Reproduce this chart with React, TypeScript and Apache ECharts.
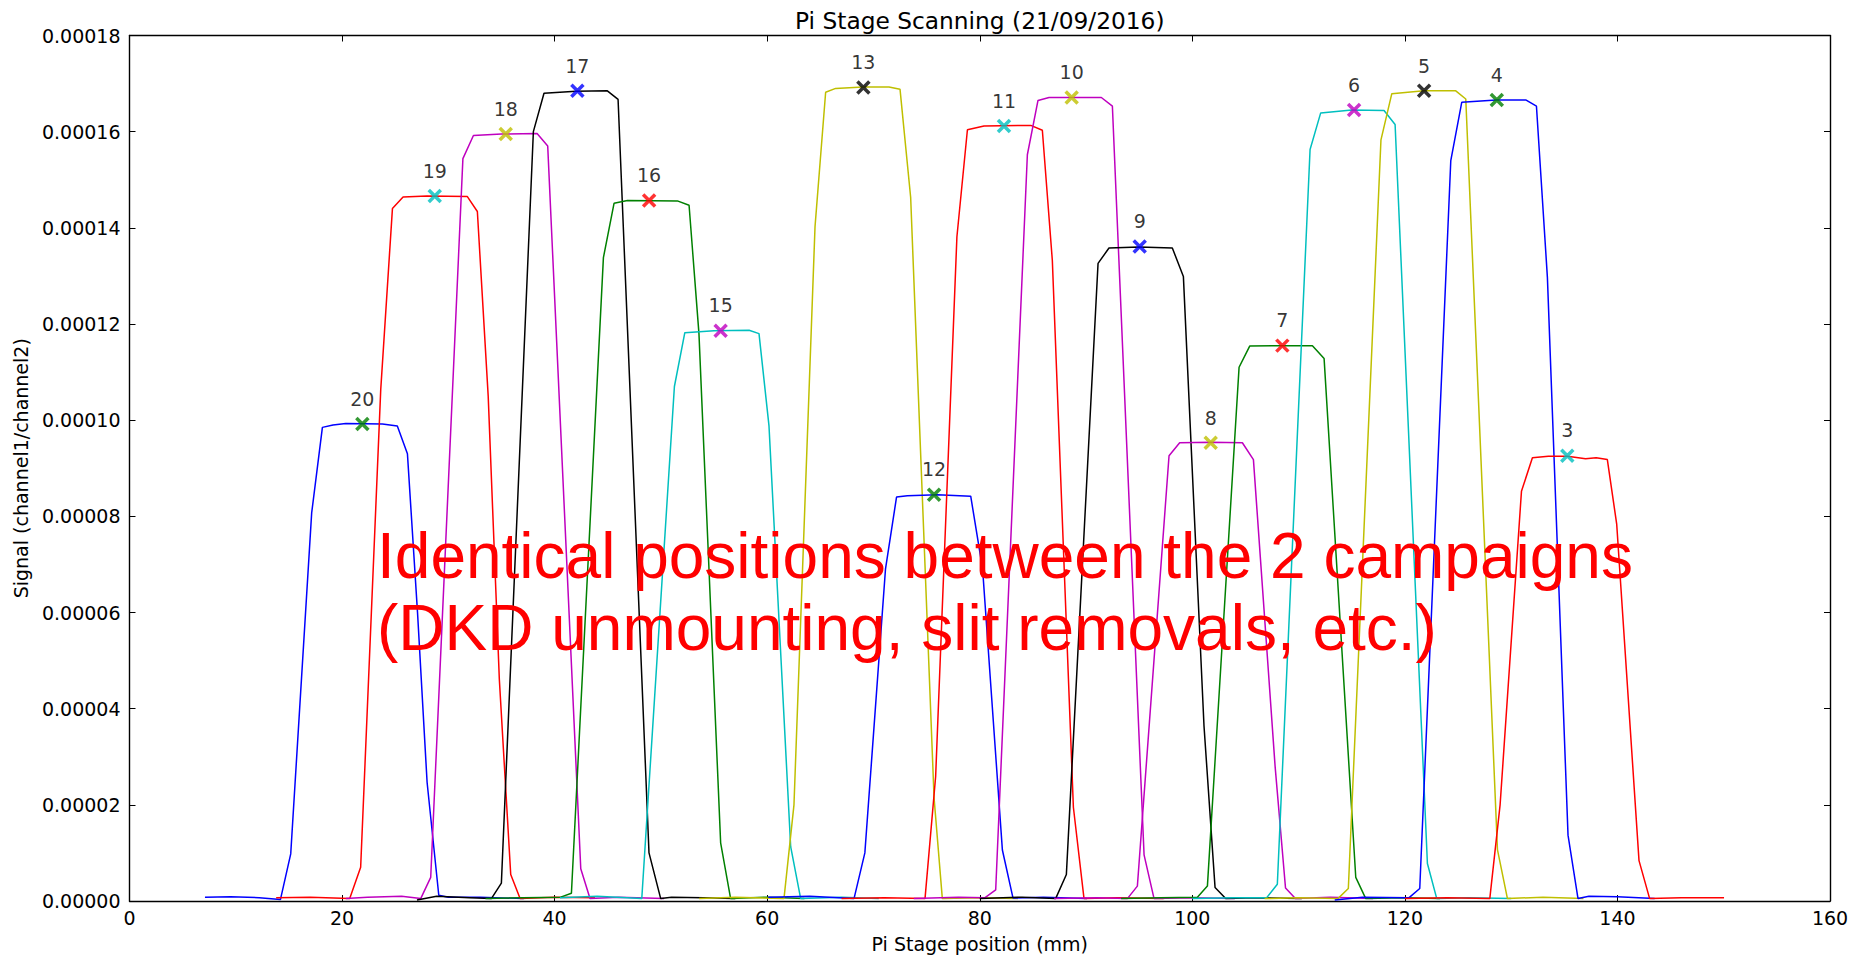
import React, { useEffect, useRef } from 'react';
import * as echarts from 'echarts';

// ---- data (x in mm, y = signal channel1/channel2) ----
const c20 = [[7.1, 0.08e-5], [9.5, 0.09e-5], [12.2, 0.07e-5], [14.2, 0.03e-5], [15.17, 0.98e-5], [17.14, 8.07e-5], [18.15, 9.85e-5], [19.15, 9.9e-5], [20.35, 9.93e-5], [23.8, 9.92e-5], [25.2, 9.88e-5], [26.15, 9.3e-5], [27.1, 6.0e-5], [28.0, 2.47e-5], [29.1, 0.12e-5], [30.0, 0.08e-5], [33.0, 0.08e-5], [37.1, 0.05e-5]];
const c19 = [[13.8, 0.07e-5], [17.0, 0.08e-5], [20.72, 0.05e-5], [21.75, 0.7e-5], [23.64, 10.64e-5], [24.74, 14.4e-5], [25.74, 14.64e-5], [28.0, 14.66e-5], [31.79, 14.65e-5], [32.73, 14.34e-5], [33.75, 10.5e-5], [34.8, 4.6e-5], [35.87, 0.55e-5], [36.75, 0.05e-5], [40.0, 0.08e-5], [43.8, 0.07e-5]];
const c18 = [[20.35, 0.05e-5], [22.4, 0.08e-5], [25.6, 0.1e-5], [27.4, 0.05e-5], [28.34, 0.49e-5], [31.37, 15.44e-5], [32.36, 15.92e-5], [35.0, 15.95e-5], [38.35, 15.96e-5], [39.35, 15.7e-5], [42.46, 0.67e-5], [43.33, 0.05e-5], [46.0, 0.08e-5], [50.3, 0.05e-5]];
const c17 = [[27.05, 0.02e-5], [28.9, 0.1e-5], [32.0, 0.07e-5], [34.05, 0.05e-5], [34.99, 0.37e-5], [38.0, 16.0e-5], [39.0, 16.8e-5], [42.0, 16.84e-5], [44.96, 16.85e-5], [45.97, 16.67e-5], [48.88, 1.0e-5], [49.98, 0.05e-5], [51.0, 0.08e-5], [54.0, 0.07e-5], [57.0, 0.05e-5]];
const c16 = [[33.5, 0.05e-5], [37.0, 0.07e-5], [40.57, 0.08e-5], [41.58, 0.16e-5], [44.59, 13.38e-5], [45.59, 14.51e-5], [46.85, 14.57e-5], [51.55, 14.56e-5], [52.65, 14.47e-5], [53.58, 11.8e-5], [55.62, 1.21e-5], [56.56, 0.05e-5], [60.0, 0.08e-5], [63.5, 0.05e-5]];
const c15 = [[40.5, 0.07e-5], [44.0, 0.1e-5], [48.2, 0.05e-5], [51.27, 10.7e-5], [52.25, 11.82e-5], [55.0, 11.86e-5], [58.3, 11.87e-5], [59.23, 11.8e-5], [60.17, 9.88e-5], [62.21, 1.13e-5], [63.15, 0.05e-5], [67.0, 0.08e-5], [70.5, 0.05e-5]];
const c13 = [[53.6, 0.05e-5], [57.0, 0.08e-5], [61.58, 0.05e-5], [62.52, 2.0e-5], [64.5, 14.02e-5], [65.5, 16.82e-5], [66.44, 16.9e-5], [69.0, 16.93e-5], [71.46, 16.93e-5], [72.5, 16.88e-5], [73.5, 14.63e-5], [75.7, 2.15e-5], [76.48, 0.05e-5], [80.0, 0.07e-5], [83.6, 0.05e-5]];
const c12 = [[60.1, 0.08e-5], [64.0, 0.1e-5], [68.17, 0.05e-5], [69.19, 1.0e-5], [71.13, 6.9e-5], [72.17, 8.4e-5], [73.19, 8.43e-5], [76.0, 8.45e-5], [79.15, 8.42e-5], [80.27, 6.9e-5], [82.13, 1.06e-5], [83.13, 0.06e-5], [86.0, 0.08e-5], [90.1, 0.05e-5]];
const c11 = [[67.0, 0.05e-5], [71.0, 0.07e-5], [74.85, 0.05e-5], [75.85, 2.59e-5], [77.85, 13.81e-5], [78.84, 16.04e-5], [80.4, 16.12e-5], [84.8, 16.13e-5], [85.89, 16.03e-5], [86.83, 13.32e-5], [88.81, 1.95e-5], [89.81, 0.05e-5], [93.0, 0.07e-5], [97.3, 0.05e-5]];
const c10 = [[73.8, 0.05e-5], [78.0, 0.08e-5], [80.5, 0.07e-5], [81.5, 0.23e-5], [84.48, 15.52e-5], [85.48, 16.65e-5], [86.52, 16.71e-5], [91.44, 16.71e-5], [92.48, 16.53e-5], [95.46, 0.96e-5], [96.4, 0.05e-5], [100.0, 0.07e-5], [104.0, 0.05e-5]];
const c9 = [[80.0, 0.05e-5], [84.0, 0.08e-5], [87.14, 0.05e-5], [88.15, 0.55e-5], [91.13, 13.26e-5], [92.16, 13.58e-5], [95.0, 13.6e-5], [98.12, 13.58e-5], [99.16, 12.99e-5], [101.1, 3.64e-5], [102.14, 0.28e-5], [103.14, 0.05e-5], [106.0, 0.07e-5], [110.3, 0.05e-5]];
const c8 = [[87.0, 0.05e-5], [91.0, 0.07e-5], [93.89, 0.05e-5], [94.83, 0.31e-5], [97.81, 9.26e-5], [98.81, 9.53e-5], [101.7, 9.54e-5], [104.71, 9.53e-5], [105.75, 9.18e-5], [107.79, 2.8e-5], [108.77, 0.27e-5], [109.7, 0.05e-5], [113.0, 0.08e-5], [117.0, 0.05e-5]];
const c7 = [[93.3, 0.05e-5], [97.0, 0.07e-5], [100.48, 0.08e-5], [101.42, 0.31e-5], [104.4, 11.1e-5], [105.4, 11.54e-5], [108.5, 11.55e-5], [111.3, 11.55e-5], [112.4, 11.28e-5], [115.38, 0.49e-5], [116.32, 0.05e-5], [120.0, 0.07e-5], [123.3, 0.05e-5]];
const c6 = [[100.0, 0.05e-5], [104.0, 0.07e-5], [107.0, 0.07e-5], [108.0, 0.35e-5], [111.08, 15.63e-5], [112.08, 16.39e-5], [115.0, 16.45e-5], [118.04, 16.44e-5], [119.08, 16.15e-5], [122.12, 0.78e-5], [123.0, 0.05e-5], [126.0, 0.07e-5], [130.0, 0.05e-5]];
const c5 = [[106.8, 0.05e-5], [110.0, 0.07e-5], [113.7, 0.05e-5], [114.68, 0.26e-5], [117.75, 15.83e-5], [118.77, 16.79e-5], [121.8, 16.85e-5], [124.79, 16.85e-5], [125.73, 16.68e-5], [128.71, 1.07e-5], [129.65, 0.05e-5], [133.0, 0.08e-5], [136.8, 0.05e-5]];
const c4 = [[113.4, 0.02e-5], [116.0, 0.08e-5], [120.4, 0.07e-5], [121.4, 0.26e-5], [124.32, 15.4e-5], [125.35, 16.61e-5], [128.6, 16.66e-5], [131.37, 16.66e-5], [132.38, 16.53e-5], [133.41, 12.97e-5], [135.35, 1.37e-5], [136.29, 0.05e-5], [137.32, 0.1e-5], [140.0, 0.09e-5], [143.5, 0.05e-5]];
const c3 = [[120.0, 0.05e-5], [124.0, 0.07e-5], [127.99, 0.05e-5], [128.96, 2.0e-5], [130.97, 8.52e-5], [132.0, 9.22e-5], [133.5, 9.25e-5], [135.3, 9.25e-5], [137.0, 9.2e-5], [138.0, 9.22e-5], [139.05, 9.18e-5], [139.93, 7.84e-5], [142.03, 0.84e-5], [143.03, 0.05e-5], [146.0, 0.07e-5], [150.03, 0.07e-5]];

const positionNames = ['20', '19', '18', '17', '16', '15', '13', '12', '11', '10', '9', '8', '7', '6', '5', '4', '3'];
const curves = [c20, c19, c18, c17, c16, c15, c13, c12, c11, c10, c9, c8, c7, c6, c5, c4, c3];
const markerX = [21.91, 28.72, 35.4, 42.14, 48.89, 55.62, 69.05, 75.7, 82.28, 88.65, 95.05, 101.73, 108.47, 115.22, 121.81, 128.65, 135.28];
const markerY = [9.92e-5, 14.66e-5, 15.95e-5, 16.85e-5, 14.57e-5, 11.86e-5, 16.92e-5, 8.45e-5, 16.12e-5, 16.71e-5, 13.61e-5, 9.53e-5, 11.55e-5, 16.45e-5, 16.85e-5, 16.66e-5, 9.26e-5];

const xTickMin = 0, xTickMax = 160, xTickStep = 20;
const yTickMin = 0, yTickMax = 0.00018, yTickStep = 0.00002;

const titleText = 'Pi Stage Scanning (21/09/2016)';
const xName = 'Pi Stage position (mm)';
const yName = 'Signal (channel1/channel2)';
const noteLines = ['Identical positions between the 2 campaigns', '(DKD unmounting, slit removals, etc.)'];

// ---- styles ----
const B = '#0000ff', G = '#008000', R = '#ff0000', C = '#00bfbf', M = '#bf00bf', Y = '#bfbf00', K = '#000000';
const lineColors = [B, R, M, K, G, C, Y, B, R, M, K, M, G, C, Y, B, R];
const markerColors = [G, C, Y, B, R, M, K, G, C, Y, B, Y, R, M, K, G, C];

const FONT = '"DejaVu Sans", sans-serif';

export default function App() {
  const ref = useRef<HTMLDivElement>(null);
  useEffect(() => {
    if (!ref.current) return;
    const chart = echarts.init(ref.current, undefined, { renderer: 'svg' });
    const axisLine = { show: true, onZero: false, lineStyle: { color: '#000', width: 1.4 } };
    const axisTick = { show: true, inside: true, length: 6, lineStyle: { color: '#000', width: 1 } };
    const labelStyle = { color: '#000', fontSize: 19, fontFamily: FONT };

    const lineSeries = curves.map((c, i) => ({
      type: 'line',
      name: 'pos' + positionNames[i],
      data: c,
      showSymbol: false,
      symbol: 'none',
      xAxisIndex: 0,
      yAxisIndex: 0,
      lineStyle: { color: lineColors[i], width: 1.5 },
      itemStyle: { color: lineColors[i] },
      z: 2,
    }));

    const markerSeries = {
      type: 'scatter',
      name: 'markers',
      xAxisIndex: 0,
      yAxisIndex: 0,
      symbol: 'path://M0,0L10,10M10,0L0,10',
      symbolSize: 12,
      z: 5,
      data: markerX.map((x, i) => ({
        name: positionNames[i],
        value: [x, markerY[i]],
        itemStyle: { color: 'rgba(0,0,0,0)', borderColor: markerColors[i], borderWidth: 3.5 },
      })),
      label: {
        show: true,
        position: 'top',
        distance: 8,
        formatter: '{b}',
        color: '#000',
        fontSize: 19,
        fontFamily: FONT,
      },
    };

    chart.setOption({
      animation: false,
      backgroundColor: '#ffffff',
      grid: { left: 129.5, right: 30, top: 35.5, bottom: 54, containLabel: false, outerBoundsMode: 'none' },
      xAxis: [
        {
          type: 'value', min: xTickMin, max: xTickMax, interval: xTickStep, position: 'bottom',
          axisLine, axisTick, splitLine: { show: false },
          axisLabel: { ...labelStyle, margin: 7 },
          name: xName, nameLocation: 'middle', nameGap: 33,
          nameTextStyle: { color: '#000', fontSize: 19, fontFamily: FONT },
        },
        {
          type: 'value', min: xTickMin, max: xTickMax, interval: xTickStep, position: 'top',
          axisLine, axisTick, splitLine: { show: false }, axisLabel: { show: false },
        },
      ],
      yAxis: [
        {
          type: 'value', min: yTickMin, max: yTickMax, interval: yTickStep, position: 'left',
          axisLine, axisTick, splitLine: { show: false },
          axisLabel: { ...labelStyle, margin: 9, formatter: (v: number) => v.toFixed(5) },
          name: yName, nameLocation: 'middle', nameGap: 99, nameRotate: 90,
          nameTextStyle: { color: '#000', fontSize: 19, fontFamily: FONT },
        },
        {
          type: 'value', min: yTickMin, max: yTickMax, interval: yTickStep, position: 'right',
          axisLine, axisTick, splitLine: { show: false }, axisLabel: { show: false },
        },
      ],
      graphic: [
        {
          type: 'text', x: 979.8, y: 20, z: 100,
          style: { text: titleText, fill: '#000', font: '23.3px ' + FONT, align: 'center', verticalAlign: 'middle' },
        },
        {
          type: 'text', x: 377, y: 556, z: 100,
          style: { text: noteLines[0], fill: '#ff0000', font: '64px "Liberation Sans", Arial, sans-serif', align: 'left', verticalAlign: 'middle' },
        },
        {
          type: 'text', x: 377, y: 628, z: 100,
          style: { text: noteLines[1], fill: '#ff0000', font: '64px "Liberation Sans", Arial, sans-serif', align: 'left', verticalAlign: 'middle' },
        },
      ],
      series: [...lineSeries, markerSeries],
    });
    return () => chart.dispose();
  }, []);
  return <div ref={ref} style={{ position: 'absolute', left: 0, top: 0, width: 1860, height: 955, background: '#fff' }} />;
}
